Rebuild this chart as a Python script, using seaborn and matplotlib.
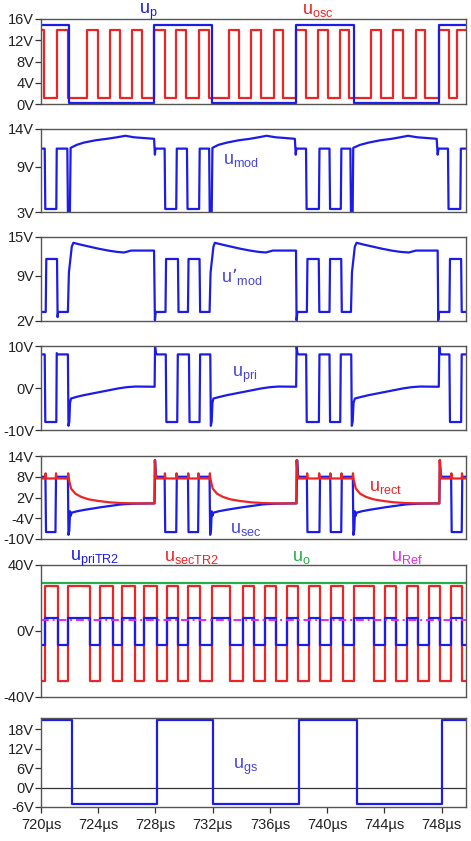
import matplotlib
matplotlib.use("Agg")
import matplotlib.pyplot as plt
import pandas as pd
import seaborn as sns

# time window in µs
T_START, T_END = 720.0, 749.7

# panel 1: square signals, edge times (µs) and levels (V)
up_edges = [721.98, 727.91, 731.92, 737.83, 741.86, 747.81]
up_levels = [14.9, 0.2, 14.9, 0.2, 14.9, 0.2, 14.9]

osc_edges = [720.22, 721.09, 721.86, 723.19, 723.95, 724.80, 725.50, 726.38, 727.08,
             727.93, 728.66, 729.45, 730.15, 731.02, 731.72, 733.14, 733.85, 734.71,
             735.36, 736.27, 736.94, 737.85, 738.55, 739.37, 740.04, 740.88, 741.55,
             743.09, 743.76, 744.60, 745.28, 746.19, 746.84, 747.82, 748.51, 749.05]
osc_levels = [14.0, 1.1] * 18 + [14.0]

# panel 2: u_mod
umod = [(720, 11.4), (720.26, 11.4), (720.30, 3.4), (721.07, 3.4), (721.10, 11.4),
        (721.84, 11.4), (721.88, 3.0), (722.02, 3.0), (722.07, 11.5), (722.5, 11.9),
        (723.0, 12.2), (723.8, 12.5), (724.6, 12.7), (725.3, 12.9), (725.9, 13.1),
        (726.5, 12.9), (727.2, 12.8), (727.90, 12.7), (727.96, 10.6), (728.00, 11.4),
        (728.64, 11.4), (728.68, 3.4), (729.45, 3.4), (729.49, 11.4), (730.20, 11.4),
        (730.24, 3.4), (731.05, 3.4), (731.09, 11.4), (731.75, 11.4), (731.79, 3.0),
        (731.93, 3.0), (731.98, 11.5), (732.4, 11.9), (733.0, 12.2), (733.8, 12.5),
        (734.6, 12.7), (735.2, 12.9), (735.76, 13.1), (736.4, 12.9), (737.1, 12.8),
        (737.74, 12.7), (737.80, 10.6), (737.85, 11.4), (738.52, 11.4), (738.56, 3.4),
        (739.42, 3.4), (739.46, 11.4), (740.16, 11.4), (740.20, 3.4), (740.95, 3.4),
        (740.99, 11.4), (741.62, 11.4), (741.66, 3.0), (741.78, 3.0), (741.82, 11.5),
        (742.3, 11.9), (742.9, 12.2), (743.7, 12.5), (744.5, 12.7), (745.1, 12.9),
        (745.65, 13.1), (746.3, 12.9), (747.0, 12.8), (747.65, 12.7), (747.72, 10.6),
        (747.78, 11.4), (748.44, 11.4), (748.48, 3.4), (749.30, 3.4), (749.34, 11.4),
        (749.7, 11.4)]

# panel 3: u'_mod
umod2 = [(720, 3.4), (720.33, 3.4), (720.37, 11.6), (721.12, 11.6), (721.16, 2.6),
         (721.20, 3.4), (721.88, 3.4), (721.95, 9.5), (722.05, 11.5), (722.15, 13.5),
         (722.26, 14.1), (722.8, 13.8), (723.4, 13.5), (724.0, 13.2), (724.7, 12.9),
         (725.3, 12.7), (725.8, 12.6), (726.3, 12.9), (727.90, 12.9), (727.96, 2.1),
         (728.02, 3.4), (728.70, 3.4), (728.74, 11.6), (729.57, 11.6), (729.61, 3.4),
         (730.27, 3.4), (730.31, 11.6), (731.08, 11.6), (731.12, 3.4), (731.78, 3.4),
         (731.85, 9.5), (731.95, 11.5), (732.05, 13.5), (732.15, 14.1), (732.7, 13.8),
         (733.3, 13.5), (733.9, 13.2), (734.6, 12.9), (735.2, 12.7), (735.7, 12.6),
         (736.2, 12.9), (737.82, 12.9), (737.86, 2.1), (737.92, 3.4), (738.58, 3.4),
         (738.62, 11.6), (739.41, 11.6), (739.45, 3.4), (740.16, 3.4), (740.20, 11.6),
         (740.98, 11.6), (741.02, 3.4), (741.66, 3.4), (741.73, 9.5), (741.83, 11.5),
         (741.93, 13.5), (742.05, 14.1), (742.6, 13.8), (743.2, 13.5), (743.8, 13.2),
         (744.5, 12.9), (745.1, 12.7), (745.7, 12.6), (746.2, 12.9), (747.72, 12.9),
         (747.76, 2.1), (747.82, 3.4), (748.54, 3.4), (748.58, 11.6), (749.36, 11.6),
         (749.40, 3.4), (749.7, 3.4)]

# panel 4: u_pri
upri = [(720, 8.0), (720.26, 8.0), (720.30, -8.1), (721.07, -8.1), (721.10, 8.3),
        (721.15, 8.0), (721.88, 8.0), (721.92, -9.0), (721.98, -8.0), (722.03, -3.5),
        (722.10, -2.5), (722.5, -2.1), (723.0, -1.7), (723.6, -1.3), (724.2, -0.9),
        (724.8, -0.5), (725.4, -0.1), (726.0, 0.2), (726.6, 0.35), (727.94, 0.3),
        (727.97, 10.0), (728.03, 8.3), (728.10, 8.0), (728.72, 8.0), (728.76, -8.1),
        (729.52, -8.1), (729.56, 8.0), (730.34, 8.0), (730.38, -8.1), (731.08, -8.1),
        (731.12, 8.0), (731.83, 8.0), (731.87, -9.0), (731.93, -8.0), (731.98, -3.5),
        (732.05, -2.5), (732.5, -2.1), (733.0, -1.7), (733.6, -1.3), (734.2, -0.9),
        (734.8, -0.5), (735.4, -0.1), (736.0, 0.2), (736.6, 0.35), (737.83, 0.3),
        (737.86, 10.0), (737.92, 8.3), (737.99, 8.0), (738.53, 8.0), (738.57, -8.1),
        (739.42, -8.1), (739.46, 8.0), (740.16, 8.0), (740.20, -8.1), (740.91, -8.1),
        (740.95, 8.0), (741.68, 8.0), (741.72, -9.0), (741.78, -8.0), (741.84, -3.5),
        (741.94, -2.5), (742.4, -2.1), (742.9, -1.7), (743.5, -1.3), (744.1, -0.9),
        (744.7, -0.5), (745.3, -0.1), (745.9, 0.2), (746.5, 0.35), (747.80, 0.3),
        (747.83, 10.0), (747.89, 8.3), (747.96, 8.0), (748.54, 8.0), (748.58, -8.1),
        (749.36, -8.1), (749.40, 8.0), (749.7, 8.0)]

# panel 5: u_sec (blue) and u_rect (red)
usec = [(720, 8.0), (720.31, 8.0), (720.35, -8.0), (721.01, -8.0), (721.05, 8.0),
        (721.88, 8.0), (721.92, -8.8), (721.98, -7.5), (722.03, -2.0), (722.08, -3.3),
        (722.14, -2.4), (722.5, -2.0), (723.0, -1.6), (723.6, -1.2), (724.2, -0.8),
        (724.9, -0.4), (725.6, 0.0), (726.4, 0.2), (727.94, 0.3), (727.97, 12.8),
        (728.03, 8.5), (728.10, 8.0), (728.64, 8.0), (728.68, -8.0), (729.45, -8.0),
        (729.49, 8.0), (730.27, 8.0), (730.31, -8.0), (730.98, -8.0), (731.02, 8.0),
        (731.78, 8.0), (731.82, -8.8), (731.88, -7.5), (731.93, -2.0), (731.98, -3.3),
        (732.04, -2.4), (732.4, -2.0), (732.9, -1.6), (733.5, -1.2), (734.1, -0.8),
        (734.8, -0.4), (735.5, 0.0), (736.3, 0.2), (737.86, 0.3), (737.90, 12.8),
        (737.96, 8.5), (738.03, 8.0), (738.58, 8.0), (738.62, -8.0), (739.46, -8.0),
        (739.50, 8.0), (740.21, 8.0), (740.25, -8.0), (740.98, -8.0), (741.02, 8.0),
        (741.79, 8.0), (741.83, -8.8), (741.89, -7.5), (741.94, -2.0), (741.99, -3.3),
        (742.05, -2.4), (742.4, -2.0), (742.9, -1.6), (743.5, -1.2), (744.1, -0.8),
        (744.8, -0.4), (745.5, 0.0), (746.3, 0.2), (747.84, 0.3), (747.88, 12.8),
        (747.94, 8.5), (748.01, 8.0), (748.66, 8.0), (748.70, -8.0), (749.40, -8.0),
        (749.44, 8.0), (749.7, 8.0)]

urect = [(720, 7.5), (720.30, 7.5), (720.32, 9.0), (720.36, 7.5), (721.03, 7.5),
         (721.05, 9.0), (721.09, 7.5), (721.88, 7.5), (721.90, 9.0), (721.95, 7.2),
         (722.1, 4.6), (722.4, 3.1), (722.8, 2.2), (723.3, 1.5), (724.0, 1.0),
         (724.8, 0.6), (725.6, 0.4), (726.5, 0.3), (727.92, 0.3), (727.95, 12.8),
         (728.02, 8.5), (728.10, 7.5), (728.64, 7.5), (728.66, 9.0), (728.70, 7.5),
         (729.45, 7.5), (729.47, 9.0), (729.51, 7.5), (730.27, 7.5), (730.29, 9.0),
         (730.33, 7.5), (730.98, 7.5), (731.00, 9.0), (731.04, 7.5), (731.78, 7.5),
         (731.80, 9.0), (731.85, 7.2), (732.0, 4.6), (732.3, 3.1), (732.7, 2.2),
         (733.2, 1.5), (733.9, 1.0), (734.7, 0.6), (735.5, 0.4), (736.4, 0.3),
         (737.83, 0.3), (737.86, 12.8), (737.93, 8.5), (738.00, 7.5), (738.58, 7.5),
         (738.60, 9.0), (738.64, 7.5), (739.42, 7.5), (739.44, 9.0), (739.48, 7.5),
         (740.20, 7.5), (740.22, 9.0), (740.26, 7.5), (740.98, 7.5), (741.00, 9.0),
         (741.04, 7.5), (741.78, 7.5), (741.80, 9.0), (741.85, 7.2), (742.0, 4.6),
         (742.3, 3.1), (742.7, 2.2), (743.2, 1.5), (743.9, 1.0), (744.7, 0.6),
         (745.5, 0.4), (746.4, 0.3), (747.83, 0.3), (747.86, 12.8), (747.93, 8.5),
         (748.00, 7.5), (748.66, 7.5), (748.68, 9.0), (748.72, 7.5), (749.40, 7.5),
         (749.42, 9.0), (749.46, 7.5), (749.7, 7.5)]

# panel 6: transformer TR2 voltages, output and reference
tr2_edges = [720.28, 721.19, 721.89, 723.42, 724.12, 725.03, 725.66, 726.56, 727.19,
             728.10, 728.78, 729.60, 730.29, 731.10, 731.92, 733.23, 734.13, 734.87,
             735.64, 736.41, 737.16, 737.97, 738.74, 739.53, 740.30, 741.11, 741.86,
             743.25, 744.02, 744.84, 745.58, 746.35, 747.12, 747.91, 748.68, 749.45]
usec_tr2_levels = [-30.0, 27.0] * 18 + [-30.0]
upri_tr2_levels = [-8.7, 7.7] * 18 + [-8.7]
uo_level = 29.3
uref_level = 6.7

# panel 7: gate-source voltage
ugs_edges = [722.20, 728.10, 732.00, 738.00, 742.10, 748.00]
ugs_levels = [20.8, -5.0, 20.8, -5.0, 20.8, -5.0, 20.8]

y_ticks = [[0, 4, 8, 12, 16], [3, 9, 14], [2, 9, 15], [-10, 0, 10],
           [-10, -4, 2, 8, 14], [-40, 0, 40], [-6, 0, 6, 12, 18]]
y_lims = [(0, 16), (3, 14), (2, 15), (-10, 10), (-10, 14), (-40, 40), (-6, 21.4)]
x_ticks = [720, 724, 728, 732, 736, 740, 744, 748]

BLUE = "#1c1ce8"
RED = "#ec2424"
GREEN = "#22b04a"
MAGENTA = "#e628e6"
LBLUE = "#4646dc"


def square(edges, levels):
    t, v = [T_START], [levels[0]]
    for e, a, b in zip(edges, levels[:-1], levels[1:]):
        t += [e, e]
        v += [a, b]
    t.append(T_END)
    v.append(levels[-1])
    return pd.DataFrame({"t": t, "v": v})


def pts(points):
    return pd.DataFrame(points, columns=["t", "v"])


sns.set_style("white")
plt.rcParams["font.family"] = ["Liberation Sans", "DejaVu Sans"]
plt.rcParams["mathtext.default"] = "regular"

W, H = 471, 841
fig = plt.figure(figsize=(W / 100, H / 100), dpi=100)

# panel boxes in pixels (top, bottom)
boxes = [(19, 104), (129, 212), (237, 321), (346, 430), (456, 539), (565, 697), (718, 807)]
axes = []
for top, bot in boxes:
    ax = fig.add_axes([41 / W, 1 - bot / H, 425 / W, (bot - top) / H])
    axes.append(ax)


def draw(ax, df, color, **kw):
    sns.lineplot(data=df, x="t", y="v", ax=ax, color=color, estimator=None,
                 sort=False, legend=False, **kw)


lw = 1.6
draw(axes[0], square(osc_edges, osc_levels), RED, lw=lw)
draw(axes[0], square(up_edges, up_levels), BLUE, lw=lw)
draw(axes[1], pts(umod), BLUE, lw=lw)
draw(axes[2], pts(umod2), BLUE, lw=lw)
draw(axes[3], pts(upri), BLUE, lw=lw)
draw(axes[4], pts(usec), BLUE, lw=lw)
draw(axes[4], pts(urect), RED, lw=lw)
draw(axes[5], square(tr2_edges, usec_tr2_levels), RED, lw=lw)
draw(axes[5], square(tr2_edges, upri_tr2_levels), BLUE, lw=lw)
draw(axes[5], square([], [uo_level]), GREEN, lw=lw)
draw(axes[5], square([], [uref_level]), MAGENTA, lw=1.4, linestyle=(0, (4, 2, 1, 2)))
axes[6].axhline(0, color="#333333", lw=0.9, zorder=1)
draw(axes[6], square(ugs_edges, ugs_levels), BLUE, lw=lw)

for i, ax in enumerate(axes):
    ax.set_xlim(T_START, T_END)
    ax.set_ylim(*y_lims[i])
    ax.set_yticks(y_ticks[i])
    ax.set_yticklabels([f"{v}V" for v in y_ticks[i]])
    ax.set_xlabel("")
    ax.set_ylabel("")
    for s in ax.spines.values():
        s.set_color("#555555")
        s.set_linewidth(1.0)
    ax.tick_params(axis="y", left=True, direction="out", length=4, width=0.9,
                   color="#333333", labelsize=10.5, labelcolor="#222222", pad=1)
    if i < len(axes) - 1:
        ax.set_xticks([])
    else:
        ax.set_xticks(x_ticks)
        ax.set_xticklabels([f"{v}µs" for v in x_ticks])
        ax.tick_params(axis="x", bottom=True, direction="out", length=4, width=0.9,
                       color="#333333", labelsize=10.5, labelcolor="#222222", pad=4)

# signal names (pixel positions of the label centres)
labels = [
    (148, 14, r"$u_{p}$", BLUE),
    (318, 14, r"$u_{osc}$", RED),
    (241, 164, r"$u_{mod}$", LBLUE),
    (242, 282, "$u\u2019_{mod}$", LBLUE),
    (245, 377, r"$u_{pri}$", LBLUE),
    (386, 491, r"$u_{rect}$", RED),
    (246, 533, r"$u_{sec}$", LBLUE),
    (95, 561, r"$u_{priTR2}$", BLUE),
    (192, 561, r"$u_{secTR2}$", RED),
    (301, 561, r"$u_{o}$", GREEN),
    (407, 561, r"$u_{Ref}$", MAGENTA),
    (246, 769, r"$u_{gs}$", LBLUE),
]
for x, y, s, c in labels:
    fig.text(x / W, 1 - y / H, s, color=c, fontsize=13, ha="center", va="baseline")

fig.savefig("out.png", dpi=100)
